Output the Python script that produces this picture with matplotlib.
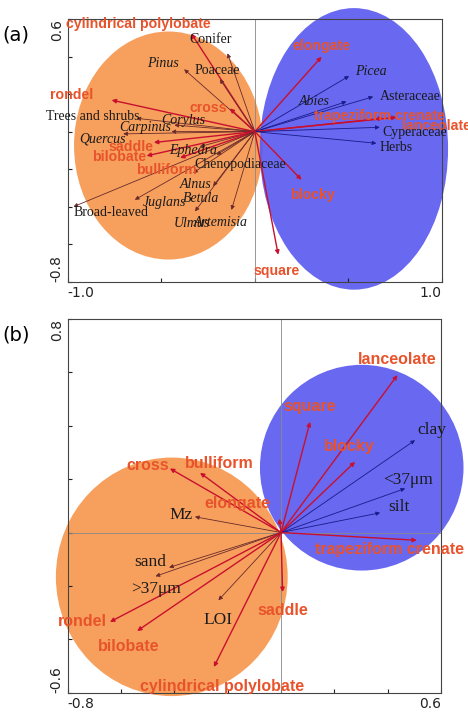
import matplotlib
matplotlib.use("Agg")
import matplotlib.pyplot as plt
from matplotlib.patches import Ellipse

# ---------- Panel (a) data ----------
a_names = ["cylindrical polylobate", "Conifer", "Pinus", "Poaceae", "rondel", "cross",
           "Trees and shrubs", "Corylus", "Carpinus", "Quercus", "saddle", "Ephedra",
           "bilobate", "bulliform", "Chenopodiaceae", "Alnus", "Juglans", "Betula",
           "Broad-leaved", "Ulmus", "Artemisia", "elongate", "Picea", "Abies",
           "Asteraceae", "trapeziform crenate", "lanceolate", "Cyperaceae", "Herbs",
           "blocky", "square"]
a_x = [-0.34, -0.146, -0.378, -0.187, -0.766, -0.134, -0.633, -0.43, -0.446, -0.704,
       -0.54, -0.294, -0.579, -0.40, -0.205, -0.33, -0.642, -0.223, -0.97, -0.32,
       -0.125, 0.357, 0.504, 0.49, 0.633, 0.686, 0.758, 0.668, 0.65, 0.25, 0.125]
a_y = [0.523, 0.417, 0.332, 0.280, 0.168, 0.124, 0.071, 0.035, 0.0, -0.012,
       -0.058, -0.08, -0.129, -0.14, -0.124, -0.22, -0.363, -0.29, -0.40, -0.425,
       -0.417, 0.399, 0.296, 0.16, 0.186, 0.071, 0.076, 0.023, -0.062, -0.257, -0.656]
a_kind = ["shape", "env", "gen", "env", "shape", "shape", "env", "gen", "gen", "gen",
          "shape", "gen", "shape", "shape", "env", "gen", "gen", "gen", "env", "gen",
          "gen", "shape", "gen", "gen", "env", "shape", "shape", "env", "env", "shape", "shape"]

# ---------- Panel (b) data ----------
b_names = ["lanceolate", "square", "clay", "blocky", "<37\u03bcm", "silt", "trapeziform crenate",
           "cross", "bulliform", "elongate", "Mz", "sand", ">37\u03bcm", "rondel", "bilobate",
           "LOI", "saddle", "cylindrical polylobate"]
b_x = [0.437, 0.109, 0.503, 0.278, 0.466, 0.372, 0.51, -0.417, -0.304, -0.006, -0.323,
       -0.42, -0.471, -0.642, -0.54, -0.235, 0.006, -0.252]
b_y = [0.59, 0.415, 0.346, 0.265, 0.165, 0.074, -0.029, 0.24, 0.224, 0.052, 0.059,
       -0.131, -0.164, -0.335, -0.369, -0.254, -0.223, -0.504]
b_kind = ["shape", "shape", "env", "shape", "env", "env", "shape", "shape", "shape", "shape",
          "env", "env", "env", "shape", "shape", "env", "shape", "shape"]

# label offsets (points) and alignment
a_off = {"cylindrical polylobate": (-38, 7, "center"), "Conifer": (-12, 10, "center"),
         "Pinus": (-4, 4, "right"), "Poaceae": (-18, 6, "left"), "rondel": (-44, 4, "left"),
         "cross": (-2, 0, "right"), "Trees and shrubs": (2, 1, "right"), "Corylus": (6, 3, "center"),
         "Carpinus": (0, 3, "right"), "Quercus": (2, -4, "right"), "saddle": (0, -3, "right"),
         "Ephedra": (-22, -3, "left"), "bilobate": (0, -1, "right"), "bulliform": (-32, -9, "left"),
         "Chenopodiaceae": (-16, -7, "left"), "Alnus": (2, -8, "center"), "Juglans": (6, -2, "left"),
         "Betula": (-22, -9, "left"), "Broad-leaved": (0, -4, "left"), "Ulmus": (-2, -9, "center"),
         "Artemisia": (-8, -9, "center"), "elongate": (0, 8, "center"), "Picea": (4, 3, "left"),
         "Abies": (-12, 0, "right"), "Asteraceae": (5, 0, "left"),
         "trapeziform crenate": (-50, 2, "left"), "lanceolate": (4, -6, "left"),
         "Cyperaceae": (2, -4, "left"), "Herbs": (2, -3, "left"), "blocky": (-8, -11, "left"),
         "square": (-18, -12, "left")}
b_off = {"lanceolate": (0, 11, "center"), "square": (0, 11, "center"), "clay": (2, 7, "left"),
         "blocky": (-4, 11, "center"), "<37\u03bcm": (-16, 6, "left"), "silt": (6, 4, "left"),
         "trapeziform crenate": (-20, -7, "center"), "cross": (-16, 2, "center"),
         "bulliform": (14, 7, "center"), "elongate": (-30, 11, "center"), "Mz": (-2, 1, "right"),
         "sand": (-2, 4, "right"), ">37\u03bcm": (0, -9, "center"), "rondel": (-2, 0, "right"),
         "bilobate": (-6, -11, "center"), "LOI": (0, -14, "center"), "saddle": (0, -13, "center"),
         "cylindrical polylobate": (6, -14, "center")}

RED = "#e8532b"
ARROW_RED = "#c8102e"
ORANGE = "#f7984f"
BLUE = "#5b5bef"

fig = plt.figure(figsize=(4.68, 7.17), dpi=100)

def panel(rect, xlim, ylim, names, xs, ys, kinds, offs, ell, italic_gen, tag, xt, yt, hline,
          fs_shape, fs_env):
    ax = fig.add_axes(rect)
    ax.set_xlim(*xlim)
    ax.set_ylim(*ylim)
    for (cx, cy, w, h, c) in ell:
        ax.add_patch(Ellipse((cx, cy), w, h, facecolor=c, edgecolor="none", alpha=0.92,
                             zorder=1, clip_on=False))
    ax.axvline(0, color="#888888", lw=0.6, zorder=2)
    if hline:
        ax.axhline(0, color="#888888", lw=0.6, zorder=2)
    for n, x, y, k in zip(names, xs, ys, kinds):
        if k == "shape":
            col, lw = ARROW_RED, 1.0
        else:
            col, lw = ("#1a1a8a" if x > 0 else "#6b2a2a"), 0.6
        ax.annotate("", xy=(x, y), xytext=(0, 0),
                    arrowprops=dict(arrowstyle="-|>", color=col, lw=lw,
                                    mutation_scale=6, shrinkA=0, shrinkB=0), zorder=3)
        dx, dy, ha = offs[n]
        if k == "shape":
            kw = dict(family="Liberation Sans", weight="bold", color=RED, fontsize=fs_shape)
        else:
            kw = dict(family="Liberation Serif", color="#1a1a1a", fontsize=fs_env,
                      style=("italic" if (k == "gen" and italic_gen) else "normal"))
        ax.annotate(n, xy=(x, y), xytext=(dx, dy), textcoords="offset points",
                    ha=ha, va="center", zorder=4, annotation_clip=False, **kw)
    ax.set_xticks(xt)
    ax.set_yticks(yt)
    ax.set_xticklabels([f"{xlim[0]:.1f}"] + [""] * (len(xt) - 2) + [f"{xlim[1]:.1f}"])
    ax.set_yticklabels([f"{ylim[0]:.1f}"] + [""] * (len(yt) - 2) + [f"{ylim[1]:.1f}"],
                       rotation=90)
    ax.tick_params(direction="in", length=3, labelsize=10, colors="#222222", pad=3)
    xl = ax.get_xticklabels()
    xl[0].set_ha("left"); xl[-1].set_ha("right")
    yl = ax.get_yticklabels()
    yl[0].set_va("bottom"); yl[-1].set_va("top")
    for s in ax.spines.values():
        s.set_color("#444444")
        s.set_linewidth(0.8)
    ax.set_zorder(1)
    fig.text(0.005, rect[1] + rect[3] - 0.03, tag, fontsize=14, family="DejaVu Sans")
    return ax

panel([0.145, 0.607, 0.799, 0.3665], (-1.0, 1.0), (-0.8, 0.6),
      a_names, a_x, a_y, a_kind, a_off,
      [(-0.462, -0.074, 1.01, 1.215, ORANGE), (0.53, -0.092, 1.007, 1.50, BLUE)],
      True, "(a)", [-1.0, -0.5, 0, 0.5, 1.0], [-0.8, -0.6, -0.4, -0.2, 0, 0.2, 0.4, 0.6], False,
      10.2, 10)

panel([0.145, 0.034, 0.797, 0.521], (-0.8, 0.6), (-0.6, 0.8),
      b_names, b_x, b_y, b_kind, b_off,
      [(-0.41, -0.166, 0.87, 0.894, ORANGE), (0.303, 0.243, 0.764, 0.771, BLUE)],
      False, "(b)", [-0.8, -0.6, -0.4, -0.2, 0, 0.2, 0.4, 0.6],
      [-0.6, -0.4, -0.2, 0, 0.2, 0.4, 0.6, 0.8], True, 11.5, 12.5)

fig.savefig("out.png", dpi=100)
